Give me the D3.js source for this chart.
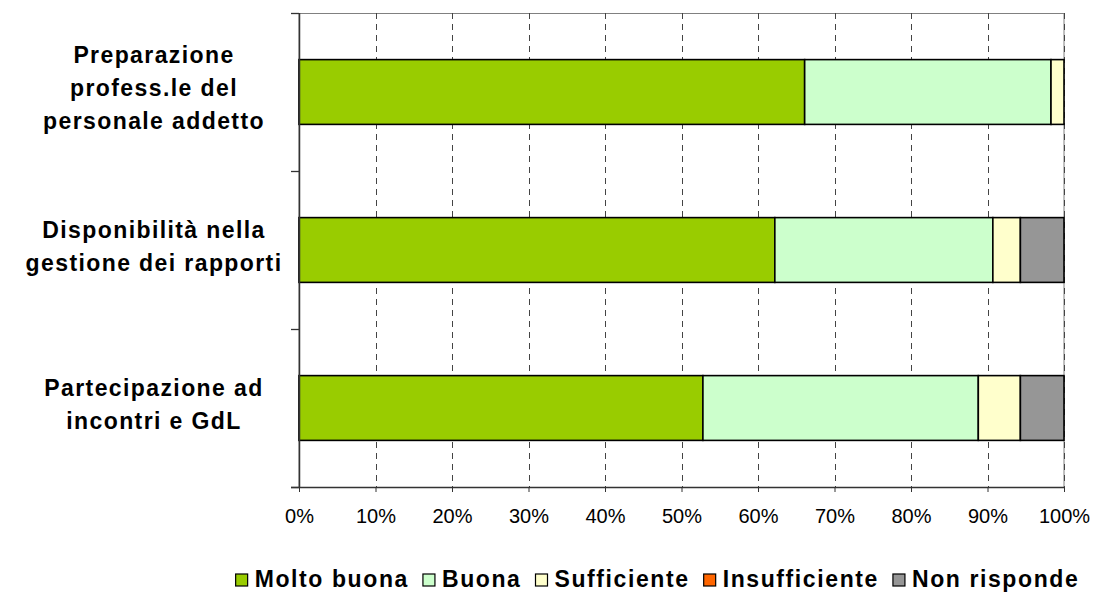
<!DOCTYPE html>
<html>
<head>
<meta charset="utf-8">
<script src="https://cdn.jsdelivr.net/npm/d3@7"></script>
<style>
  body { margin: 0; background: #fff; }
  svg { display: block; font-family: Arial, "Liberation Sans", sans-serif; }
</style>
</head>
<body>
<script>
// dati
const categorie = [
  ["Preparazione", "profess.le del", "personale addetto"],
  ["Disponibilità nella", "gestione dei rapporti"],
  ["Partecipazione ad", "incontri e GdL"]
];
const serie = ["Molto buona", "Buona", "Sufficiente", "Insufficiente", "Non risponde"];
const molto_buona = [66.1, 62.2, 52.8];
const buona = [32.2, 28.5, 36.0];
const sufficiente = [1.7, 3.6, 5.5];
const insufficiente = [0, 0, 0];
const non_risponde = [0, 5.7, 5.7];
const colori = ["#99cc00", "#ccffcc", "#ffffcc", "#ff6600", "#969696"];
const tick_valori = [0, 10, 20, 30, 40, 50, 60, 70, 80, 90, 100];

const width = 1093, height = 593;
const mLeft = 299, mRight = 1064, mTop = 13, mBottom = 487;

const valori = [molto_buona, buona, sufficiente, insufficiente, non_risponde];
const righe = categorie.map((c, i) => {
  const r = { i: i };
  serie.forEach((s, k) => r[s] = valori[k][i]);
  return r;
});
const stacked = d3.stack().keys(serie)(righe);

const svg = d3.select("body").append("svg")
  .attr("width", width).attr("height", height);

const x = d3.scaleLinear().domain([0, 100]).range([mLeft, mRight]);
const y = d3.scaleBand().domain(d3.range(categorie.length))
  .range([mTop, mBottom]).paddingInner(0.59).paddingOuter(0.295);

// bordo area
svg.append("rect")
  .attr("x", mLeft).attr("y", mTop + 0.5)
  .attr("width", mRight - mLeft).attr("height", mBottom - mTop)
  .attr("fill", "none").attr("stroke", "#808080").attr("stroke-width", 1);

// griglia tratteggiata
svg.append("g").selectAll("line")
  .data(tick_valori.filter(d => d > 0))
  .join("line")
  .attr("x1", d => Math.round(x(d)) + 0.5).attr("x2", d => Math.round(x(d)) + 0.5)
  .attr("y1", mTop).attr("y2", mBottom)
  .attr("stroke", "#444").attr("stroke-width", 1)
  .attr("stroke-dasharray", "6,5");

// barre
svg.append("g").selectAll("g")
  .data(stacked)
  .join("g")
  .attr("fill", (d, k) => colori[k])
  .selectAll("rect")
  .data(d => d.filter(p => p[1] - p[0] > 0))
  .join("rect")
  .attr("x", d => x(d[0]))
  .attr("y", d => y(d.data.i))
  .attr("width", d => x(d[1]) - x(d[0]))
  .attr("height", y.bandwidth())
  .attr("stroke", "#000").attr("stroke-width", 1.6);

// asse x
const asseX = svg.append("g")
  .attr("transform", `translate(0,${mBottom})`)
  .call(d3.axisBottom(x).tickValues(tick_valori).tickFormat(d => d + "%").tickSize(5).tickSizeOuter(0));
asseX.select(".domain").remove();
asseX.selectAll("line").attr("stroke", "#333");
asseX.selectAll("text")
  .attr("font-size", 20).attr("fill", "#000")
  .attr("y", 22).attr("dy", "0.71em");
svg.append("line")
  .attr("x1", mLeft - 8).attr("x2", mRight)
  .attr("y1", mBottom + 0.5).attr("y2", mBottom + 0.5)
  .attr("stroke", "#333").attr("stroke-width", 1.3);

// asse y
svg.append("line")
  .attr("x1", mLeft + 0.5).attr("x2", mLeft + 0.5)
  .attr("y1", mTop).attr("y2", mBottom)
  .attr("stroke", "#333").attr("stroke-width", 1.5);
const step = y.step();
svg.append("g").selectAll("line")
  .data(d3.range(categorie.length + 1))
  .join("line")
  .attr("x1", mLeft - 8).attr("x2", mLeft)
  .attr("y1", d => mTop + d * step + 0.5).attr("y2", d => mTop + d * step + 0.5)
  .attr("stroke", "#333").attr("stroke-width", 1.3);

// etichette categorie
const cx = 154, interl = 33;
categorie.forEach((righeTesto, i) => {
  const cy = y(i) + y.bandwidth() / 2 - 4;
  const t = svg.append("text")
    .attr("text-anchor", "middle")
    .attr("font-size", 23).attr("font-weight", "bold")
    .attr("letter-spacing", 1.4);
  righeTesto.forEach((s, j) => {
    t.append("tspan")
      .attr("x", cx)
      .attr("y", cy + (j - (righeTesto.length - 1) / 2) * interl)
      .attr("dominant-baseline", "central")
      .text(s);
  });
});

// legenda
const leg = svg.append("g");
let pos = 0;
serie.forEach((s, k) => {
  const g = leg.append("g").attr("transform", `translate(${pos},0)`);
  g.append("rect").attr("x", 0).attr("y", -13).attr("width", 12).attr("height", 12)
    .attr("fill", colori[k]).attr("stroke", "#000").attr("stroke-width", 1.2);
  const t = g.append("text").attr("x", 19).attr("y", 0)
    .attr("font-size", 23).attr("font-weight", "bold").attr("letter-spacing", 1.6)
    .text(s);
  pos += 19 + t.node().getComputedTextLength() + 14;
});
const legW = pos - 14;
leg.attr("transform", `translate(${(230 + 1085) / 2 - legW / 2},587)`);
</script>
</body>
</html>
